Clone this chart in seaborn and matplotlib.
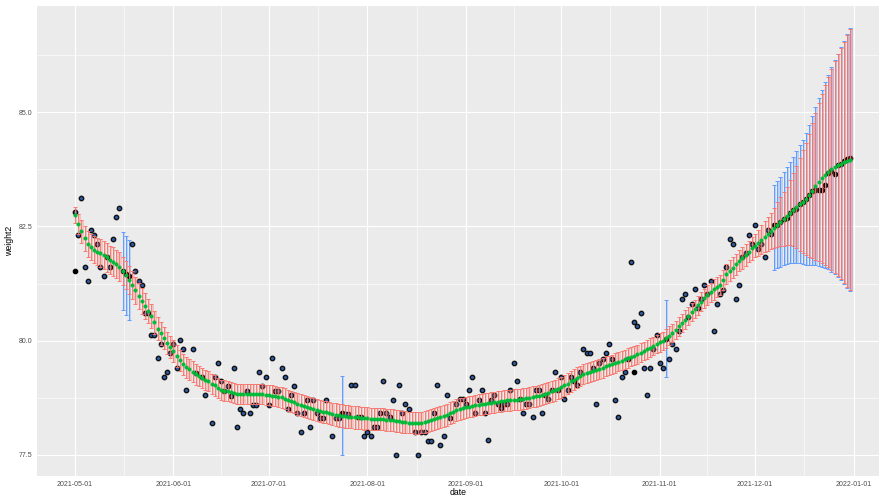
import numpy as np
import pandas as pd
import matplotlib
matplotlib.use("Agg")
import matplotlib.pyplot as plt
import matplotlib.dates as mdates
from matplotlib.ticker import FixedLocator, FormatStrFormatter, NullFormatter
import seaborn as sns

START = "2021-05-01"

# Smoothed weight estimate, one value per day from 2021-05-01 to 2021-12-31
smooth = [
    82.75, 82.56, 82.39, 82.24, 82.12, 82.05, 81.99,
    81.95, 81.92, 81.88, 81.82, 81.77, 81.73, 81.68,
    81.62, 81.52, 81.43, 81.33, 81.22, 81.10, 80.98,
    80.87, 80.76, 80.65, 80.54, 80.40, 80.26, 80.16,
    80.05, 79.94, 79.87, 79.77, 79.67, 79.57, 79.48,
    79.42, 79.37, 79.32, 79.27, 79.22, 79.18, 79.14,
    79.11, 79.06, 79.02, 78.97, 78.93, 78.91, 78.89,
    78.87, 78.85, 78.84, 78.84, 78.83, 78.83, 78.83,
    78.83, 78.83, 78.83, 78.83, 78.82, 78.81, 78.80,
    78.79, 78.77, 78.76, 78.73, 78.70, 78.68, 78.65,
    78.62, 78.60, 78.57, 78.54, 78.52, 78.50, 78.48,
    78.47, 78.45, 78.43, 78.41, 78.39, 78.38, 78.37,
    78.36, 78.35, 78.34, 78.33, 78.32, 78.32, 78.31,
    78.30, 78.30, 78.29, 78.29, 78.28, 78.28, 78.28,
    78.27, 78.27, 78.26, 78.25, 78.24, 78.23, 78.22,
    78.21, 78.21, 78.20, 78.20, 78.21, 78.22, 78.24,
    78.26, 78.28, 78.30, 78.33, 78.35, 78.38, 78.41,
    78.45, 78.48, 78.50, 78.52, 78.54, 78.55, 78.57,
    78.59, 78.60, 78.61, 78.62, 78.63, 78.64, 78.65,
    78.66, 78.68, 78.69, 78.70, 78.70, 78.71, 78.71,
    78.72, 78.73, 78.74, 78.75, 78.77, 78.78, 78.80,
    78.82, 78.84, 78.86, 78.89, 78.92, 78.95, 78.98,
    79.02, 79.06, 79.11, 79.15, 79.19, 79.23, 79.27,
    79.30, 79.32, 79.34, 79.36, 79.39, 79.41, 79.44,
    79.46, 79.48, 79.51, 79.54, 79.56, 79.59, 79.62,
    79.65, 79.67, 79.70, 79.74, 79.77, 79.81, 79.85,
    79.88, 79.92, 79.96, 80.00, 80.05, 80.11, 80.17,
    80.24, 80.31, 80.38, 80.46, 80.54, 80.62, 80.70,
    80.77, 80.85, 80.93, 81.00, 81.06, 81.12, 81.17,
    81.22, 81.33, 81.45, 81.53, 81.60, 81.67, 81.75,
    81.81, 81.88, 81.95, 82.02, 82.08, 82.14, 82.21,
    82.27, 82.34, 82.40, 82.47, 82.54, 82.60, 82.67,
    82.73, 82.80, 82.86, 82.92, 82.98, 83.04, 83.10,
    83.18, 83.28, 83.38, 83.47, 83.55, 83.62, 83.69,
    83.75, 83.80, 83.84, 83.87, 83.90, 83.93, 83.96,
]

# Half-width of the uncertainty band around the smoothed estimate
band_half = [
    0.18, 0.22, 0.25, 0.27, 0.28, 0.29, 0.30,
    0.30, 0.31, 0.31, 0.31, 0.31, 0.31, 0.31,
    0.31, 0.31, 0.31, 0.31, 0.30, 0.30, 0.29,
    0.28, 0.28, 0.27, 0.26, 0.25, 0.25, 0.25,
    0.24, 0.24, 0.24, 0.24, 0.24, 0.23, 0.23,
    0.23, 0.23, 0.23, 0.23, 0.22, 0.22, 0.22,
    0.22, 0.22, 0.22, 0.22, 0.22, 0.22, 0.22,
    0.22, 0.22, 0.22, 0.22, 0.22, 0.22, 0.22,
    0.22, 0.22, 0.22, 0.22, 0.22, 0.22, 0.22,
    0.22, 0.22, 0.23, 0.23, 0.23, 0.23, 0.23,
    0.24, 0.24, 0.24, 0.24, 0.24, 0.24, 0.24,
    0.24, 0.24, 0.24, 0.24, 0.24, 0.25, 0.25,
    0.25, 0.25, 0.25, 0.25, 0.25, 0.25, 0.25,
    0.25, 0.24, 0.24, 0.24, 0.24, 0.24, 0.24,
    0.24, 0.24, 0.24, 0.24, 0.24, 0.24, 0.24,
    0.24, 0.24, 0.24, 0.24, 0.24, 0.24, 0.24,
    0.24, 0.24, 0.24, 0.24, 0.24, 0.24, 0.24,
    0.24, 0.24, 0.24, 0.23, 0.23, 0.23, 0.23,
    0.23, 0.23, 0.23, 0.23, 0.23, 0.23, 0.23,
    0.23, 0.23, 0.23, 0.23, 0.23, 0.23, 0.23,
    0.23, 0.23, 0.23, 0.23, 0.23, 0.23, 0.23,
    0.23, 0.23, 0.23, 0.23, 0.23, 0.23, 0.23,
    0.23, 0.23, 0.23, 0.23, 0.23, 0.22, 0.22,
    0.22, 0.22, 0.22, 0.22, 0.22, 0.22, 0.22,
    0.21, 0.21, 0.21, 0.21, 0.21, 0.21, 0.21,
    0.21, 0.21, 0.21, 0.21, 0.20, 0.20, 0.20,
    0.20, 0.20, 0.20, 0.20, 0.20, 0.20, 0.20,
    0.20, 0.20, 0.20, 0.20, 0.20, 0.20, 0.20,
    0.20, 0.21, 0.21, 0.21, 0.21, 0.22, 0.22,
    0.22, 0.22, 0.22, 0.23, 0.23, 0.23, 0.23,
    0.24, 0.24, 0.24, 0.25, 0.26, 0.28, 0.31,
    0.34, 0.37, 0.40, 0.44, 0.49, 0.54, 0.59,
    0.64, 0.71, 0.80, 0.90, 1.01, 1.12, 1.23,
    1.35, 1.48, 1.61, 1.73, 1.85, 1.97, 2.08,
    2.20, 2.31, 2.42, 2.53, 2.64, 2.75, 2.85,
]

N = None
# Logged morning weight (None = nothing logged that day)
weight = [
    82.82, 82.31, 83.11, 81.61, 81.31, 82.41, 82.31,
    82.11, 81.61, 81.41, 81.84, 81.61, 82.22, 82.71,
    82.91, N, N, N, 82.11, 81.52, 81.31,
    81.21, 80.61, 80.60, 80.12, 80.12, 79.62, 79.92,
    79.21, 79.32, 79.72, 79.92, 79.41, 80.02, 79.81,
    78.92, N, 79.81, 79.30, N, 79.20, 78.81,
    N, 78.20, 79.21, 79.51, 79.11, 78.91, 79.00,
    78.80, 79.41, 78.11, 78.51, 78.41, 78.91, 78.41,
    78.60, 78.60, 79.32, 79.00, 79.21, 78.60, 79.62,
    78.91, 78.91, 79.41, 79.21, 78.51, 78.81, 79.00,
    78.41, 78.00, 78.41, 78.71, 78.11, 78.71, 78.41,
    78.31, 78.31, 78.71, N, 77.91, 78.31, 78.31,
    N, 78.40, 78.40, 79.02, 79.02, 78.33, 78.33,
    77.91, 78.00, 77.91, 78.11, 78.11, 78.41, 79.11,
    78.41, 78.33, 78.71, 77.51, 79.02, 78.41, 78.62,
    78.51, N, 78.00, 77.51, 78.00, 78.00, 77.80,
    77.80, 78.41, 79.02, 77.71, 77.91, 78.81, 78.31,
    N, 78.62, 78.72, 78.72, 78.62, 78.92, 79.21,
    78.41, 78.70, 78.92, 78.41, 77.82, 78.70, 78.82,
    78.62, 78.52, 78.62, 78.62, 78.92, 79.52, 79.11,
    78.72, 78.41, 78.62, 78.62, 78.33, 78.92, 78.92,
    78.41, 78.82, 78.72, 78.92, 79.32, 78.92, 79.21,
    78.72, 78.92, 79.21, 79.11, 79.02, 79.32, 79.81,
    79.72, 79.72, 79.40, 78.62, 79.51, 79.61, 79.72,
    79.92, 79.61, 78.71, 78.33, 79.21, 79.32, 79.61,
    81.72, 80.41, 80.32, 80.61, 79.41, 78.81, 79.41,
    79.81, 80.12, 79.51, 79.41, N, 79.61, 79.92,
    79.81, 80.21, 80.92, 81.01, 80.51, 80.81, 81.12,
    80.72, 80.91, 81.21, 81.02, 81.31, 80.21, 80.81,
    81.01, 81.10, 81.62, 82.22, 82.11, 80.91, 81.21,
    81.82, 81.91, 82.31, 82.11, 82.52, 82.01, 82.11,
    81.82, 82.42, 82.33, N, N, N, N,
    N, N, N, N, N, N, N,
    N, N, N, N, N, N, N,
    N, N, N, N, N, N, N,
]

# weight2 values that stand on their own (days offset from START)
extra_days = [0, 15, 16, 17, 84, 176, 186,
              220, 221, 222, 223, 224, 225, 226, 227, 228, 229, 230, 231, 232,
              233, 234, 235, 236, 237, 238, 239, 240, 241, 242, 243, 244]
extra_weight = [81.52, 81.52, 81.46, 81.41, 78.41, 79.32, 80.03,
                82.53, 82.54, 82.60, 82.67, 82.69, 82.80, 82.86, 82.89, 82.98,
                83.04, 83.10, 83.18, 83.28, 83.30, 83.30, 83.30, 83.41, 83.66,
                83.72, 83.65, 83.84, 83.87, 83.94, 83.98, 84.00]

# Prediction interval half-widths on the days without a logged weight
pred_days = [15, 16, 17, 84, 186,
             220, 221, 222, 223, 224, 225, 226, 227, 228, 229, 230, 231, 232,
             233, 234, 235, 236, 237, 238, 239, 240, 241, 242, 243, 244]
pred_half = [0.86, 0.86, 0.87, 0.86, 0.85,
             0.93, 0.96, 0.99, 1.02, 1.06, 1.10, 1.16, 1.22, 1.29, 1.36, 1.44,
             1.53, 1.63, 1.73, 1.83, 1.93, 2.03, 2.13, 2.24, 2.34, 2.44, 2.55,
             2.66, 2.77, 2.88]

month_ticks = ["2021-05-01", "2021-06-01", "2021-07-01", "2021-08-01",
               "2021-09-01", "2021-10-01", "2021-11-01", "2021-12-01",
               "2022-01-01"]
y_ticks = [77.5, 80.0, 82.5, 85.0]
y_minor = [78.75, 81.25, 83.75, 86.25]

RED = "#F8766D"
GREEN = "#00BA38"
BLUE = "#619CFF"

sns.set_theme(style="darkgrid", rc={
    "axes.facecolor": "#EBEBEB",
    "grid.color": "white",
})
plt.rcParams["font.family"] = ["Liberation Sans", "DejaVu Sans"]

dates = pd.date_range(START, periods=len(smooth), freq="D")
df = pd.DataFrame({
    "x": mdates.date2num(dates),
    "smooth": smooth,
    "half": band_half,
    "weight": pd.array(weight, dtype="Float64").astype(float),
})
df["lo"] = df["smooth"] - df["half"]

pred = df.iloc[pred_days][["x", "smooth"]].copy()
pred["half"] = pred_half

extra = pd.DataFrame({"x": df["x"].values[extra_days], "weight2": extra_weight})
obs = df.dropna(subset=["weight"])

fig = plt.figure(figsize=(8.81, 4.97), dpi=100)
ax = fig.add_axes([37 / 881, 21 / 497, 842 / 881, 470 / 497])

# prediction intervals (blue)
ax.bar(pred["x"] + 0.12, 2 * pred["half"], bottom=pred["smooth"] - pred["half"],
       width=0.62, align="edge", color=BLUE, alpha=0.33, linewidth=0, zorder=2)
ax.errorbar(pred["x"], pred["smooth"], yerr=pred["half"], fmt="none",
            ecolor=BLUE, elinewidth=0.7, capsize=1.2, capthick=0.7, zorder=2.2)

# logged weights and weight2 readings
sns.scatterplot(data=extra, x="x", y="weight2", ax=ax, s=10, color="black",
                edgecolor="black", linewidth=0.9, zorder=3, legend=False)
sns.scatterplot(data=obs, x="x", y="weight", ax=ax, s=10, color="#2E5AA8",
                edgecolor="#111111", linewidth=1.0, zorder=3.1, legend=False)

# uncertainty band of the smoothed estimate (red)
ax.bar(df["x"] + 0.12, 2 * df["half"], bottom=df["lo"], width=0.62,
       align="edge", color=RED, alpha=0.33, linewidth=0, zorder=4)
ax.errorbar(df["x"], df["smooth"], yerr=df["half"], fmt="none", ecolor=RED,
            elinewidth=0.65, capsize=1.1, capthick=0.65, zorder=4.2)

# smoothed estimate (green)
sns.scatterplot(data=df, x="x", y="smooth", ax=ax, s=7, color=GREEN,
                edgecolor=GREEN, linewidth=0.2, zorder=5, legend=False)

x0 = mdates.date2num(pd.Timestamp(START))
ax.set_xlim(x0 - 11.95, x0 + 253.0)
ax.set_ylim(77.04, 87.32)

major_x = mdates.date2num(pd.to_datetime(month_ticks))
minor_x = (major_x[:-1] + major_x[1:]) / 2
ax.xaxis.set_major_locator(FixedLocator(major_x))
ax.xaxis.set_major_formatter(mdates.DateFormatter("%Y-%m-%d"))
ax.xaxis.set_minor_locator(FixedLocator(minor_x))
ax.xaxis.set_minor_formatter(NullFormatter())
ax.yaxis.set_major_locator(FixedLocator(y_ticks))
ax.yaxis.set_major_formatter(FormatStrFormatter("%.1f"))
ax.yaxis.set_minor_locator(FixedLocator(y_minor))

ax.grid(which="major", color="white", linewidth=0.85)
ax.grid(which="minor", color="white", linewidth=0.42)
ax.set_axisbelow(True)
for s in ax.spines.values():
    s.set_visible(False)

ax.tick_params(axis="both", which="major", length=2.0, width=0.8,
               color="#333333", labelsize=5.0, labelcolor="#4D4D4D", pad=1.3)
ax.tick_params(axis="both", which="minor", length=0)

ax.set_xlabel("date", fontsize=6.3, color="black", labelpad=0.5)
ax.set_ylabel("weight2", fontsize=6.3, color="black", labelpad=3)

fig.savefig("out.png", dpi=100)
